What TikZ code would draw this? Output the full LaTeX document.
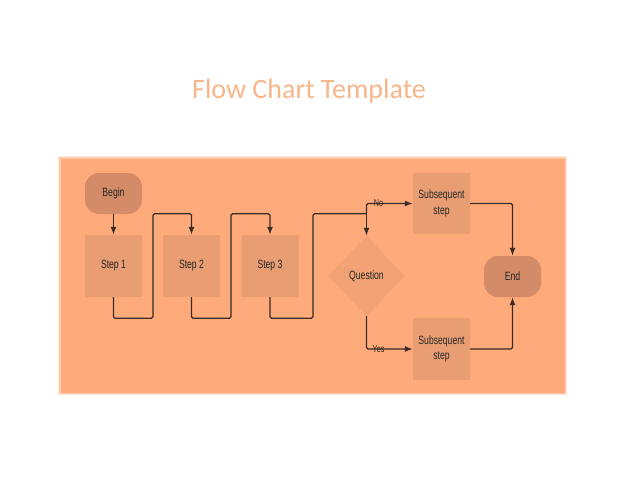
\documentclass[tikz,border=0pt]{standalone}
\usepackage{color}
\usepackage{fontspec}
\usepackage{tikz}
\usetikzlibrary{shapes.geometric}
\usetikzlibrary{arrows.meta}
\setmainfont{Liberation Sans}
\newfontfamily\boxfont[FakeStretch=0.72]{Liberation Sans}
\newfontfamily\titlefont{Carlito}
\definecolor{sheet}{HTML}{FFAA7A}
\definecolor{boxfill}{HTML}{E89D72}
\definecolor{askfill}{HTML}{F2A274}
\definecolor{termfill}{HTML}{D38B68}
\definecolor{wire}{HTML}{3A2C26}
\definecolor{heading}{HTML}{F7B58A}
\begin{document}
\begin{tikzpicture}[x=1pt,y=-1pt,
    every node/.style={font=\boxfont\fontsize{12}{15.5}\selectfont,text=black!85},
    stepbox/.style={fill=boxfill,minimum width=57pt,minimum height=62pt,inner sep=0pt,align=center,rounded corners=1pt},
    term/.style={fill=termfill,minimum width=57pt,minimum height=41pt,inner sep=0pt,rounded corners=14pt},
    ask/.style={diamond,fill=askfill,minimum width=77pt,minimum height=80pt,inner sep=0pt},
    tag/.style={font=\boxfont\fontsize{10}{11}\selectfont,inner sep=0pt},
    flow/.style={draw=wire,line width=1.2pt,rounded corners=1.5pt,-{Latex[length=8pt,width=6pt]}}]
          \useasboundingbox (0,0) rectangle (617,477);
          \fill[sheet,opacity=0.25] (58,156) rectangle (567,395);
          \fill[sheet,opacity=0.5] (59,157) rectangle (566,394);
          \fill[sheet] (60.5,158.5) rectangle (564.5,392.5);
          \node[anchor=base,font=\titlefont\fontsize{28}{30}\selectfont,text=heading] (title) at (309,98) {Flow Chart Template};
          \node[term] (begin) at (113.5,193.5) {Begin};
          \node[stepbox] (step1) at (113.5,266) {Step 1};
          \node[stepbox] (step2) at (191.5,266) {Step 2};
          \node[stepbox] (step3) at (270,266) {Step 3};
          \node[ask] (question) at (366.5,276) {Question};
          \node[stepbox,minimum height=61pt] (sub1) at (441.5,203.5) {Subsequent\\step};
          \node[stepbox] (sub2) at (441.5,349) {Subsequent\\step};
          \node[term] (end) at (512.5,276.5) {End};
          \coordinate (split) at ([yshift=22pt]question.north);
            \draw[flow] (begin) -- (step1);
            \draw[flow] (step1.south) -- ++(0,21) -- ++(39.5,0) |- ([yshift=21pt]step2.north) -- (step2.north);
            \draw[flow] (step2.south) -- ++(0,21) -- ++(39.5,0) |- ([yshift=21pt]step3.north) -- (step3.north);
            \draw[flow,-] (step3.south) -- ++(0,21) -- ++(43,0) |- (split);
            \draw[flow] (split) -- (question.north);
            \draw[flow] (split) |- node[tag,pos=0.63] {No} (sub1.west);
            \draw[flow] (question.south) |- node[tag,pos=0.63] {Yes} (sub2.west);
            \draw[flow] (sub1.east) -| (end.north);
            \draw[flow] (sub2.east) -| (end.south);
        \end{tikzpicture}
\end{document}
